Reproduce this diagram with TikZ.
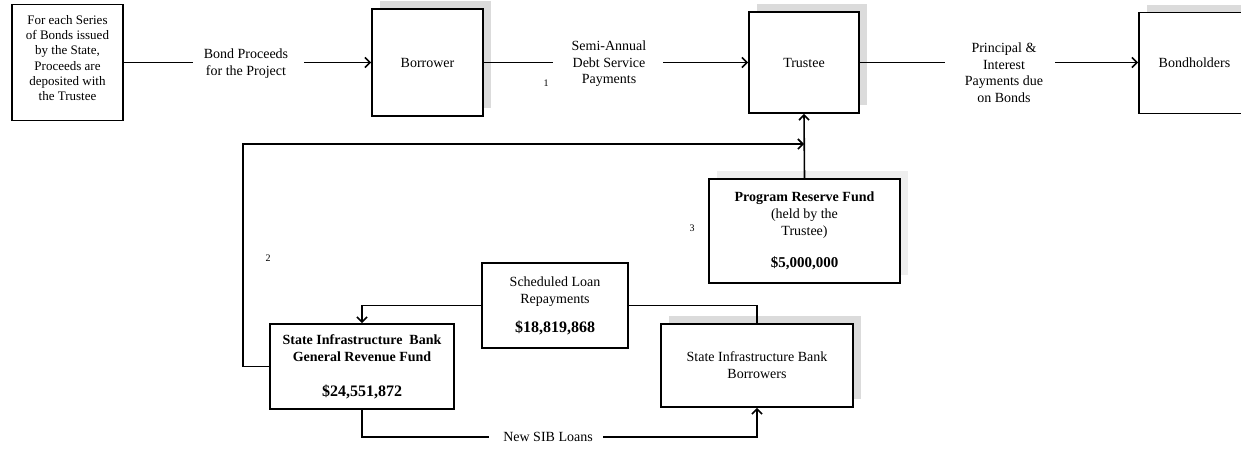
\documentclass[tikz,border=0pt]{standalone}
\usepackage{fontspec}
\setmainfont{Liberation Serif}
\usetikzlibrary{arrows.meta,shadows}

\tikzset{
  box/.style={draw, line width=1.8pt, fill=white, align=center, inner sep=2pt,
    font=\fontsize{14}{17}\selectfont},
  shad/.style={drop shadow={shadow xshift=8pt, shadow yshift=8pt, fill=gray!28, opacity=1}},
  lshad/.style={drop shadow={shadow xshift=8pt, shadow yshift=8pt, fill=gray!13, opacity=1}},
  conn/.style={line width=1.6pt},
  arr/.style={conn, -{Straight Barb[length=5pt,width=10pt,line width=1.6pt]}},
  lbl/.style={align=center, font=\fontsize{14}{16.5}\selectfont},
  num/.style={font=\fontsize{10}{12}\selectfont},
}

\begin{document}
\begin{tikzpicture}[x=1pt,y=-1pt]
\useasboundingbox (0,0) rectangle (1241,448);

% boxes
\node[box, minimum width=111pt, minimum height=116pt] (src) at (67.5,62.5) {};
\node[align=center, font=\fontsize{13}{15.3}\selectfont] (srct) at (67.5,58)
  {For each Series\\of Bonds issued\\by the State,\\Proceeds are\\deposited with\\the Trustee};
\node[box, shad, minimum width=111pt, minimum height=107pt] (bor) at (427.5,62.5) {Borrower};
\node[box, shad, minimum width=110pt, minimum height=101pt] (tru) at (804,62.5) {Trustee};
\node[box, shad, minimum width=111pt, minimum height=101pt] (bh) at (1194.5,63) {Bondholders};
\node[box, lshad, minimum width=191pt, minimum height=104pt] (prf) at (804.5,231)
  {\textbf{Program Reserve Fund}\\(held by the\\Trustee)\\[15pt]{\fontsize{15}{17}\selectfont\textbf{\$5,000,000}}};
\node[box, minimum width=184pt, minimum height=85pt] (grf) at (362,366.5)
  {\textbf{State Infrastructure\ \ Bank}\\\textbf{General Revenue\ Fund}\\[18pt]{\fontsize{16}{18}\selectfont\textbf{\$24,551,872}}};
\node[box, minimum width=146pt, minimum height=85pt] (slr) at (555,305.5)
  {Scheduled Loan\\Repayments\\[12pt]{\fontsize{16}{18}\selectfont\textbf{\$18,819,868}}};
\node[box, shad, minimum width=192pt, minimum height=83pt] (sibb) at (757,365.5)
  {State Infrastructure Bank\\Borrowers};

% top row connectors
\coordinate (g1a) at (193,62.5);
\coordinate (g1b) at (304,62.5);
\node[lbl] (l1) at (246,63.5) {Bond Proceeds\\for the Project};
\draw[conn] (src.east) -- (g1a);
\draw[arr] (g1b) -- (bor.west);

\coordinate (g2a) at (553,62.5);
\coordinate (g2b) at (663,62.5);
\node[lbl] (l2) at (609,64) {Semi-Annual\\Debt Service\\Payments};
\node[num] (n1) at (546,83) {1};
\draw[conn] (bor.east) -- (g2a);
\draw[arr] (g2b) -- (tru.west);

\coordinate (g3a) at (945,62.5);
\coordinate (g3b) at (1055,62.5);
\node[lbl] (l3) at (1004,72.5) {Principal \&\\Interest\\Payments due\\on Bonds};
\draw[conn] (tru.east) -- (g3a);
\draw[arr] (g3b) -- (bh.west |- g3b);

% loop back to trustee
\coordinate (lp) at (243,144);
\coordinate (jn) at (804,144);
\draw[arr] (grf.west) -| (lp) -- (jn);
\draw[arr] (prf.north) -- (tru.south);
\node[num] (n2) at (268,258) {2};
\node[num] (n3) at (692,228) {3};

% loan repayments
\draw[arr] (slr.west) -| (grf.north);
\draw[conn] (slr.east) -| (sibb.north);

% new SIB loans
\coordinate (g4a) at (489,437);
\coordinate (g4b) at (603,437);
\node[lbl] (l4) at (548,437) {New SIB Loans};
\draw[conn] (grf.south) |- (g4a);
\draw[arr] (g4b) -| (sibb.south);
\end{tikzpicture}
\end{document}
